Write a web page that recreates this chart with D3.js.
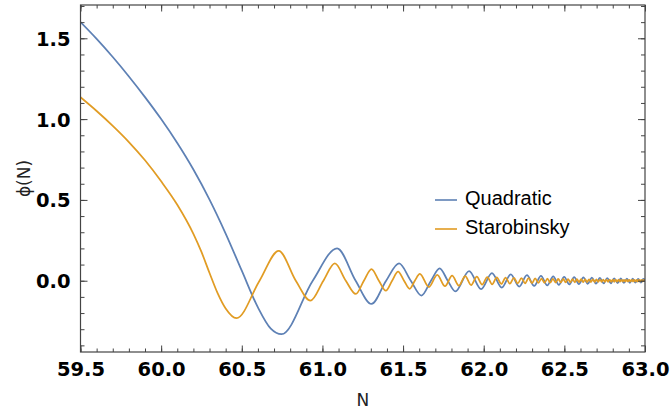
<!DOCTYPE html>
<html>
<head>
<meta charset="utf-8">
<script src="https://cdn.jsdelivr.net/npm/d3@7"></script>
<style>
  body { margin: 0; background: #fff; }
  svg { display: block; }
  .tick-label { font-family: "DejaVu Sans", sans-serif; font-weight: bold; font-size: 19.5px; fill: #000; }
  .axis-label { font-family: "DejaVu Sans", sans-serif; font-size: 17px; fill: #222; }
  .legend-text { font-family: "Liberation Sans", Arial, sans-serif; font-size: 20px; fill: #000; }
</style>
</head>
<body>
<svg id="chart" width="671" height="410"></svg>
<script>
// phi(N): [N, phi]
const quadratic = [
  [59.5, 1.60], [59.6, 1.496], [59.7, 1.384], [59.8, 1.264], [59.9, 1.136],
  [60.0, 1.0], [60.1, 0.852], [60.2, 0.688], [60.3, 0.502], [60.4, 0.292],
  [60.5, 0.062], [60.6, -0.165], [60.68, -0.297], [60.746, -0.331],
  [60.94, 0], [61.091, 0.2], [61.206, 0], [61.304, -0.144], [61.395, 0],
  [61.475, 0.107], [61.548, 0], [61.614, -0.092], [61.673, 0], [61.727, 0.077],
  [61.777, 0], [61.824, -0.066], [61.909, 0.059], [61.984, -0.052],
  [62.051, 0.047], [62.112, -0.043], [62.168, 0.040], [62.220, -0.037],
  [62.268, 0.034], [62.313, -0.032], [62.355, 0.030], [62.394, -0.028],
  [62.431, 0.027], [62.466, -0.025], [62.499, 0.024], [62.531, -0.023],
  [62.561, 0.022], [62.590, -0.021], [62.618, 0.020], [62.645, -0.019],
  [62.671, 0.019], [62.696, -0.018], [62.720, 0.017], [62.743, -0.017],
  [62.766, 0.016], [62.788, -0.016], [62.809, 0.015], [62.830, -0.015],
  [62.850, 0.014], [62.869, -0.014], [62.888, 0.0135], [62.906, -0.013],
  [62.924, 0.013], [62.941, -0.012], [62.958, 0.012], [62.974, -0.012],
  [62.990, 0.0115], [63.0, 0.004]
];

const starobinsky = [
  [59.5, 1.135], [59.6, 1.050], [59.7, 0.958], [59.8, 0.858], [59.9, 0.745],
  [60.0, 0.615], [60.1, 0.47], [60.2, 0.29], [60.25, 0.178], [60.3, 0.048],
  [60.35, -0.077], [60.4, -0.172], [60.467, -0.232],
  [60.61, 0], [60.729, 0.185], [60.835, 0], [60.926, -0.123], [61.006, 0],
  [61.077, 0.107], [61.145, 0], [61.207, -0.082], [61.257, 0], [61.304, 0.072],
  [61.35, 0], [61.393, -0.062], [61.432, 0], [61.469, 0.056], [61.506, 0],
  [61.541, -0.05], [61.573, 0], [61.604, 0.042],
  [61.660, -0.039], [61.712, 0.036], [61.760, -0.034], [61.804, 0.032],
  [61.846, -0.030], [61.885, 0.028], [61.922, -0.0265], [61.957, 0.025],
  [61.990, -0.024], [62.022, 0.023], [62.052, -0.022], [62.081, 0.021],
  [62.109, -0.020], [62.136, 0.019], [62.162, -0.0185], [62.187, 0.018],
  [62.211, -0.017], [62.234, 0.0166], [62.256, -0.016], [62.278, 0.0155],
  [62.299, -0.015], [62.319, 0.0145], [62.339, -0.014], [62.358, 0.0136],
  [62.377, -0.0132], [62.395, 0.0128], [62.412, -0.0125], [62.429, 0.012],
  [62.446, -0.0118], [62.462, 0.0115], [62.478, -0.0112], [62.493, 0.011],
  [62.508, -0.0107], [62.523, 0.0104], [62.537, -0.0102], [62.551, 0.010],
  [62.565, -0.0098], [62.578, 0.0096], [62.591, -0.0094], [62.604, 0.0092],
  [62.617, -0.009], [62.629, 0.0088], [62.641, -0.0086], [62.653, 0.0084],
  [62.665, -0.0083], [62.677, 0.0081], [62.688, -0.008], [62.699, 0.0078],
  [62.710, -0.0077], [62.721, 0.0075], [62.731, -0.0074], [62.741, 0.0073],
  [62.751, -0.0072], [62.761, 0.007], [62.771, -0.0069], [62.781, 0.0068],
  [62.791, -0.0067], [62.800, 0.0066], [62.809, -0.0065], [62.818, 0.0064],
  [62.827, -0.0063], [62.836, 0.0062], [62.845, -0.0061], [62.853, 0.006],
  [62.862, -0.0059], [62.870, 0.0058], [62.878, -0.0058], [62.886, 0.0057],
  [62.894, -0.0056], [62.902, 0.0055], [62.910, -0.0055], [62.918, 0.0054],
  [62.926, -0.0053], [62.933, 0.0053], [62.941, -0.0052], [62.948, 0.0051],
  [62.956, -0.0051], [62.963, 0.005], [62.970, -0.005], [62.977, 0.0049],
  [62.984, -0.0048], [62.991, 0.0048], [62.998, -0.0047]
];

const xMajor = [59.5, 60.0, 60.5, 61.0, 61.5, 62.0, 62.5, 63.0];
const yMajor = [0.0, 0.5, 1.0, 1.5];
const xMinor = d3.range(59.5, 63.001, 0.1);
const yMinor = d3.range(-0.4, 1.701, 0.1);

const seriesNames = ["Quadratic", "Starobinsky"];
const seriesColors = ["#5e81b5", "#e19c24"];

const svg = d3.select("#chart");
const plot = { left: 80.5, right: 645, top: 5, bottom: 352 };

const x = d3.scaleLinear().domain([59.5, 63]).range([plot.left, plot.right]);
const y = d3.scaleLinear().domain([-0.441, 1.706]).range([plot.bottom, plot.top]);

const frameColor = "#444";

// clip for curves
svg.append("defs").append("clipPath").attr("id", "plot-clip")
  .append("rect")
  .attr("x", plot.left).attr("y", plot.top)
  .attr("width", plot.right - plot.left).attr("height", plot.bottom - plot.top);

// curves
const line = d3.line()
  .x((d) => x(d[0]))
  .y((d) => y(d[1]))
  .curve(d3.curveMonotoneX);

const curves = svg.append("g").attr("clip-path", "url(#plot-clip)");
[quadratic, starobinsky].forEach((data, i) => {
  curves.append("path")
    .datum(data)
    .attr("fill", "none")
    .attr("stroke", seriesColors[i])
    .attr("stroke-width", 1.75)
    .attr("stroke-linejoin", "round")
    .attr("d", line);
});

// frame axes, ticks pointing inward
function styleAxis(g) {
  g.select(".domain").remove();
  g.selectAll(".tick line").attr("stroke", frameColor).attr("stroke-width", 1);
}

function addAxis(axisFn, scale, values, size, translate, labels) {
  const g = svg.append("g")
    .attr("transform", translate)
    .call(
      axisFn(scale)
        .tickValues(values)
        .tickSize(-size)
        .tickPadding(labels ? 10 : 0)
        .tickFormat(labels ? d3.format(".1f") : "")
    );
  styleAxis(g);
  g.attr("font-family", null).attr("font-size", null);
  g.selectAll(".tick text").attr("class", "tick-label");
  return g;
}

// minor ticks
addAxis(d3.axisBottom, x, xMinor, 3.5, `translate(0,${plot.bottom})`, false);
addAxis(d3.axisTop, x, xMinor, 3.5, `translate(0,${plot.top})`, false);
addAxis(d3.axisLeft, y, yMinor, 4, `translate(${plot.left},0)`, false);
addAxis(d3.axisRight, y, yMinor, 4, `translate(${plot.right},0)`, false);
// major ticks
addAxis(d3.axisBottom, x, xMajor, 6.5, `translate(0,${plot.bottom})`, true);
addAxis(d3.axisTop, x, xMajor, 6.5, `translate(0,${plot.top})`, false);
const yAxis = addAxis(d3.axisLeft, y, yMajor, 7, `translate(${plot.left},0)`, true);
yAxis.selectAll(".tick text").attr("dy", "0.36em");
addAxis(d3.axisRight, y, yMajor, 7, `translate(${plot.right},0)`, false);

// frame
svg.append("rect")
  .attr("x", plot.left).attr("y", plot.top)
  .attr("width", plot.right - plot.left).attr("height", plot.bottom - plot.top)
  .attr("fill", "none")
  .attr("stroke", frameColor)
  .attr("stroke-width", 1.2);

// axis labels
svg.append("text")
  .attr("class", "axis-label")
  .attr("text-anchor", "middle")
  .attr("x", (plot.left + plot.right) / 2)
  .attr("y", 406)
  .text("N");

svg.append("text")
  .attr("class", "axis-label")
  .attr("text-anchor", "middle")
  .attr("transform", `translate(30,${(plot.top + plot.bottom) / 2}) rotate(-90)`)
  .text("ϕ(N)");

// legend
const legend = svg.append("g").attr("transform", "translate(435,200)");
seriesNames.forEach((name, i) => {
  const row = legend.append("g").attr("transform", `translate(0,${i * 29})`);
  row.append("line")
    .attr("x1", 0).attr("x2", 22)
    .attr("y1", 0).attr("y2", 0)
    .attr("stroke", seriesColors[i])
    .attr("stroke-width", 1.6);
  row.append("text")
    .attr("class", "legend-text")
    .attr("x", 30)
    .attr("y", 4.5)
    .text(name);
});
</script>
</body>
</html>
